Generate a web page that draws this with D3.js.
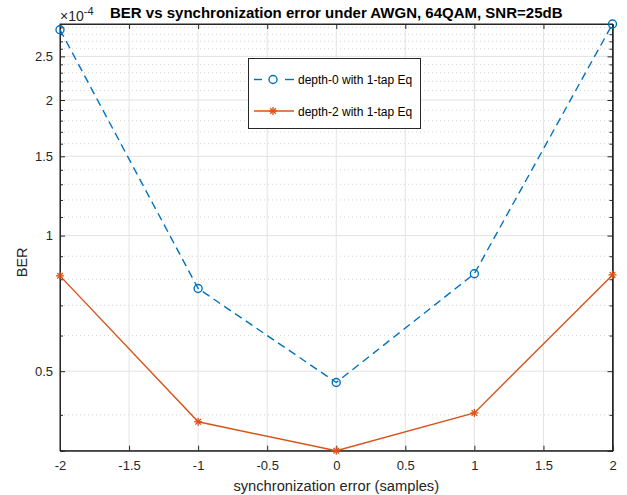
<!DOCTYPE html>
<html><head><meta charset="utf-8">
<script src="https://cdn.jsdelivr.net/npm/d3@7"></script>
<style>body{margin:0;background:#fff}svg{display:block}text{font-family:"Liberation Sans",Arial,sans-serif}</style>
</head><body>
<script>
const syncErr = [-2, -1, 0, 1, 2];
const berDepth0 = [2.865e-4, 0.763e-4, 0.472e-4, 0.823e-4, 2.95e-4];
const berDepth2 = [0.814e-4, 0.386e-4, 0.333e-4, 0.404e-4, 0.818e-4];
const seriesNames = ["depth-0 with 1-tap Eq", "depth-2 with 1-tap Eq"];
const xTicks = [-2, -1.5, -1, -0.5, 0, 0.5, 1, 1.5, 2];
const xTickLabels = ["-2", "-1.5", "-1", "-0.5", "0", "0.5", "1", "1.5", "2"];
const yTicks = [0.5e-4, 1e-4, 1.5e-4, 2e-4, 2.5e-4];
const yTickLabels = ["0.5", "1", "1.5", "2", "2.5"];
const yMinor = [0.4,0.6,0.7,0.8,0.9,1.1,1.2,1.3,1.4,1.6,1.7,1.8,1.9,2.1,2.2,2.3,2.4,2.6,2.7,2.8,2.9].map(v=>v*1e-4);
const titleText = "BER vs synchronization error under AWGN, 64QAM, SNR=25dB";
const xLabel = "synchronization error (samples)";
const yLabel = "BER";

(function(){
const W = 627, H = 495;
const m = {l: 60, r: 14.5, t: 24, b: 44.3};
const blue = "#0072BD", orange = "#D95319", axc = "#262626";

const svg = d3.select("body").append("svg").attr("width", W).attr("height", H);
const x = d3.scaleLinear().domain([-2, 2]).range([m.l, W - m.r]);
const yDom = [d3.min(berDepth2.concat(berDepth0)), d3.max(berDepth0.concat(berDepth2))];
const y = d3.scaleLog().domain(yDom).range([H - m.b, m.t]);
const x0 = x.range()[0], x1 = x.range()[1], y0 = y.range()[0], y1 = y.range()[1];
const minorIn = yMinor.filter(v => v >= yDom[0] && v <= yDom[1]);

const g = svg.append("g");
g.selectAll(".mg").data(minorIn).join("line")
  .attr("x1", x0).attr("x2", x1).attr("y1", d => y(d)).attr("y2", d => y(d))
  .attr("stroke", "#c8c8c8").attr("stroke-width", 0.8).attr("stroke-dasharray", "1,3");
g.selectAll(".gy").data(yTicks).join("line")
  .attr("x1", x0).attr("x2", x1).attr("y1", d => y(d)).attr("y2", d => y(d))
  .attr("stroke", "#e3e3e3").attr("stroke-width", 1);
g.selectAll(".gx").data(xTicks).join("line")
  .attr("x1", d => x(d)).attr("x2", d => x(d)).attr("y1", y0).attr("y2", y1)
  .attr("stroke", "#e3e3e3").attr("stroke-width", 1);

const ax = svg.append("g");
const axB = d3.axisBottom(x).tickValues(xTicks).tickSize(-5).tickPadding(10).tickFormat((d, i) => xTickLabels[i]);
const axT = d3.axisTop(x).tickValues(xTicks).tickSize(-5).tickFormat("");
const axL = d3.axisLeft(y).tickValues(yTicks).tickSize(-5).tickPadding(7).tickFormat((d, i) => yTickLabels[i]);
const axR = d3.axisRight(y).tickValues(yTicks).tickSize(-5).tickFormat("");
const axLm = d3.axisLeft(y).tickValues(minorIn).tickSize(-3).tickFormat("");
const axRm = d3.axisRight(y).tickValues(minorIn).tickSize(-3).tickFormat("");
ax.append("g").attr("transform", `translate(0,${y0})`).call(axB);
ax.append("g").attr("transform", `translate(0,${y1})`).call(axT);
ax.append("g").attr("transform", `translate(${x0},0)`).call(axL);
ax.append("g").attr("transform", `translate(${x1},0)`).call(axR);
ax.append("g").attr("transform", `translate(${x0},0)`).call(axLm);
ax.append("g").attr("transform", `translate(${x1},0)`).call(axRm);
ax.selectAll(".domain").attr("stroke", axc).attr("stroke-width", 1);
ax.selectAll(".tick line").attr("stroke", axc).attr("stroke-width", 1);
ax.selectAll(".tick text").attr("fill", axc).attr("font-size", 13).attr("font-family", "Liberation Sans, Arial, sans-serif");
svg.append("rect").attr("x", x0).attr("y", y1).attr("width", x1 - x0).attr("height", y0 - y1)
  .attr("fill", "none").attr("stroke", axc).attr("stroke-width", 1);

const line = d3.line().x(d => x(d[0])).y(d => y(d[1]));
const d0 = syncErr.map((v, i) => [v, berDepth0[i]]);
const d2 = syncErr.map((v, i) => [v, berDepth2[i]]);
svg.append("path").datum(d0).attr("d", line).attr("fill", "none").attr("stroke", blue)
  .attr("stroke-width", 1.4).attr("stroke-dasharray", "8,5");
svg.append("path").datum(d2).attr("d", line).attr("fill", "none").attr("stroke", orange)
  .attr("stroke-width", 1.4);

function star(sel, cx, cy, r, col) {
  const gg = sel.append("g").attr("transform", `translate(${cx},${cy})`);
  [[-r,0,r,0],[0,-r,0,r],[-r*0.7,-r*0.7,r*0.7,r*0.7],[-r*0.7,r*0.7,r*0.7,-r*0.7]].forEach(a =>
    gg.append("line").attr("x1", a[0]).attr("y1", a[1]).attr("x2", a[2]).attr("y2", a[3])
      .attr("stroke", col).attr("stroke-width", 1.3));
}
svg.append("g").selectAll("circle").data(d0).join("circle")
  .attr("cx", d => x(d[0])).attr("cy", d => y(d[1])).attr("r", 4)
  .attr("fill", "none").attr("stroke", blue).attr("stroke-width", 1.4);
const sg = svg.append("g");
d2.forEach(d => star(sg, x(d[0]), y(d[1]), 4, orange));

const lg = svg.append("g");
lg.append("rect").attr("x", 248.5).attr("y", 58.5).attr("width", 172).attr("height", 70)
  .attr("fill", "#fff").attr("stroke", axc).attr("stroke-width", 1);
[[254, 262], [285, 294]].forEach(s =>
  lg.append("line").attr("x1", s[0]).attr("x2", s[1]).attr("y1", 79.5).attr("y2", 79.5)
    .attr("stroke", blue).attr("stroke-width", 1.4));
lg.append("circle").attr("cx", 273).attr("cy", 79.5).attr("r", 4).attr("fill", "none").attr("stroke", blue).attr("stroke-width", 1.4);
lg.append("line").attr("x1", 254).attr("x2", 294).attr("y1", 111).attr("y2", 111)
  .attr("stroke", orange).attr("stroke-width", 1.4);
star(lg, 273, 111, 4, orange);
lg.selectAll(".lt").data(seriesNames).join("text")
  .attr("x", 298).attr("y", (d, i) => i === 0 ? 84 : 115.5).attr("font-size", 12).attr("fill", "#000").text(d => d);

svg.append("text").attr("x", (x0 + x1) / 2).attr("y", 18).attr("text-anchor", "middle")
  .attr("font-size", 15).attr("font-weight", "bold").attr("fill", "#000").text(titleText);
svg.append("text").attr("x", (x0 + x1) / 2).attr("y", 491).attr("text-anchor", "middle")
  .attr("font-size", 14.7).attr("fill", axc).text(xLabel);
svg.append("text").attr("transform", `translate(27,${(y0 + y1) / 2 + 25}) rotate(-90)`).attr("text-anchor", "middle")
  .attr("font-size", 14.5).attr("fill", axc).text(yLabel);
const ex = svg.append("text").attr("x", 60).attr("y", 21).attr("font-size", 14).attr("fill", axc);
ex.append("tspan").text("×10");
ex.append("tspan").attr("dy", -6).attr("font-size", 11).text("-4");
})();
</script>
</body></html>
